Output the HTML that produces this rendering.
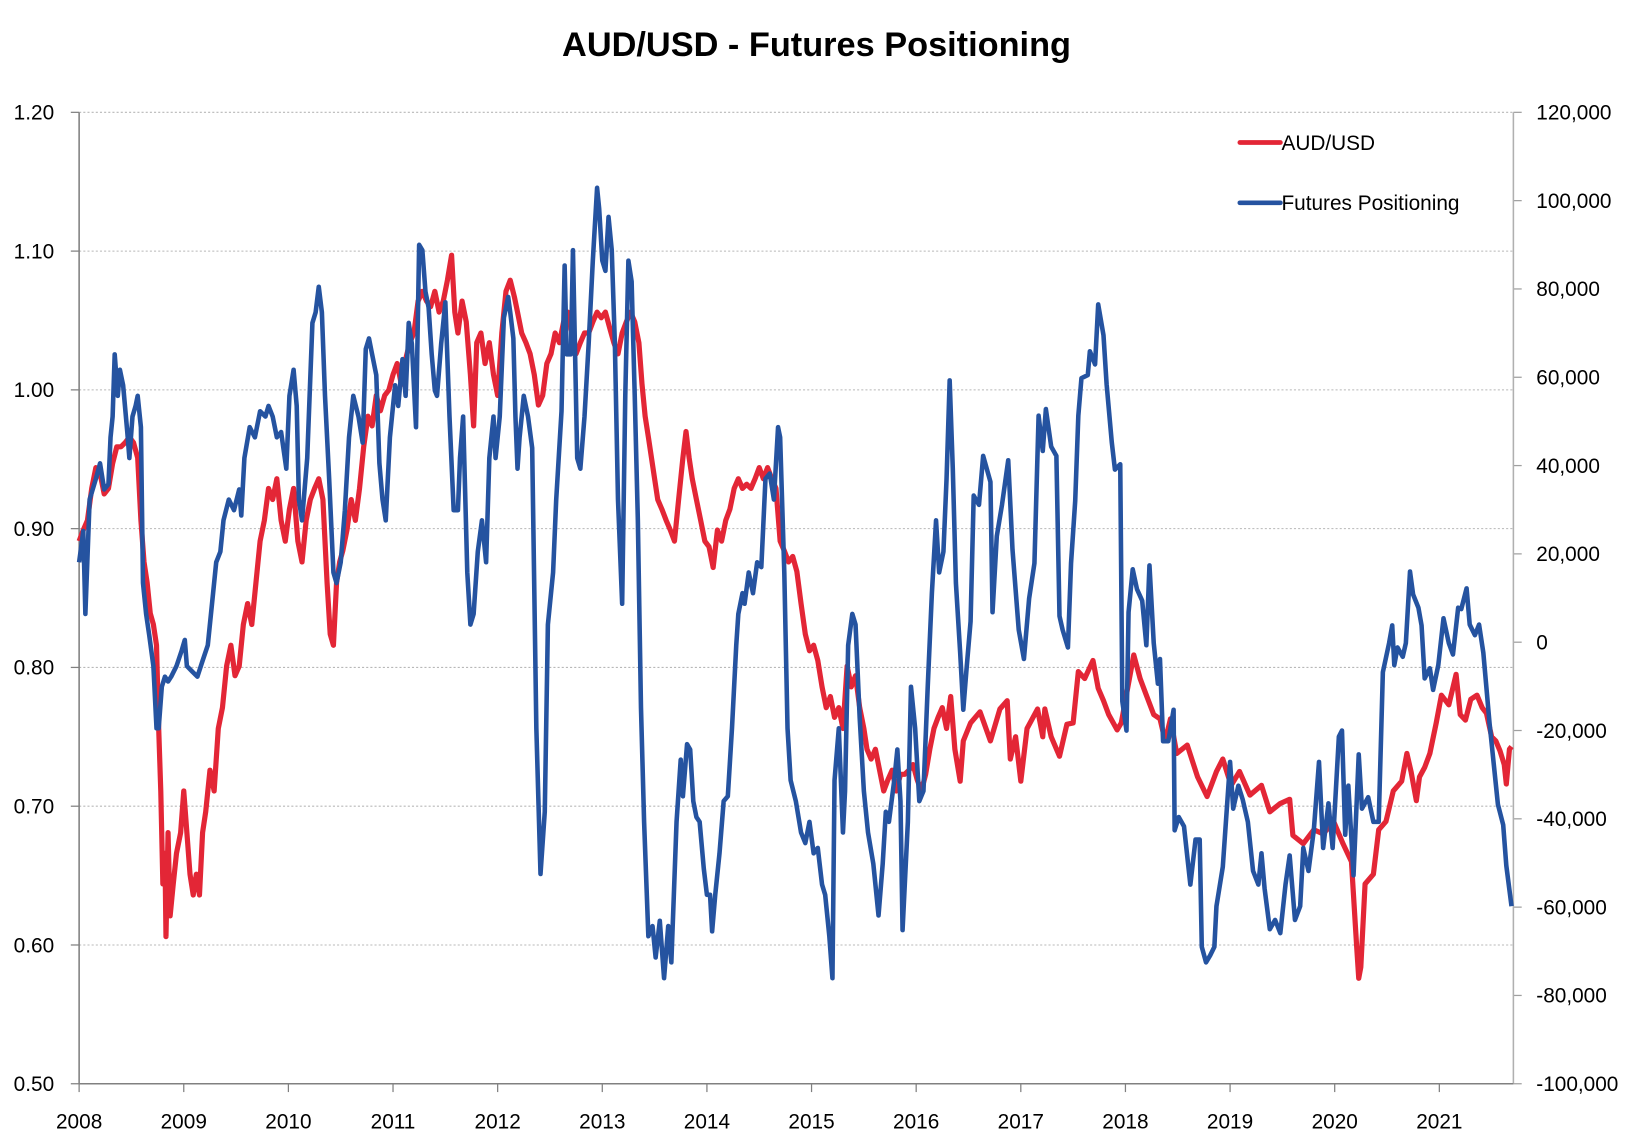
<!DOCTYPE html>
<html><head><meta charset="utf-8"><style>
html,body{margin:0;padding:0;background:#fff;}
svg{display:block;}
text{font-family:"Liberation Sans",sans-serif;}
</style></head><body>
<svg id="chart" width="1631" height="1142" viewBox="0 0 1568 1098" xmlns="http://www.w3.org/2000/svg">
<text x="785" y="54" text-anchor="middle" font-size="33" font-weight="bold" fill="#000">AUD/USD - Futures Positioning</text>
<g id="grid"></g>
<g id="axes"></g>
<g id="series"></g>
<g>
<g><line x1="1192" y1="137" x2="1231" y2="137" stroke="#e32636" stroke-width="4.5" stroke-linecap="round"/><text x="1232" y="144" font-size="20" fill="#000">AUD/USD</text></g>
<g><line x1="1192" y1="195" x2="1231" y2="195" stroke="#2553a0" stroke-width="4.5" stroke-linecap="round"/><text x="1232" y="202" font-size="20" fill="#000">Futures Positioning</text></g>
</g>
</svg>
<script>
const xTickLabels = [2008,2009,2010,2011,2012,2013,2014,2015,2016,2017,2018,2019,2020,2021];
const leftTickLabels = ["1.20","1.10","1.00","0.90","0.80","0.70","0.60","0.50"];
const leftTickValues = [1.2,1.1,1.0,0.9,0.8,0.7,0.6,0.5];
const rightTickLabels = ["120,000","100,000","80,000","60,000","40,000","20,000","0","-20,000","-40,000","-60,000","-80,000","-100,000"];
const rightTickValues = [120000,100000,80000,60000,40000,20000,0,-20000,-40000,-60000,-80000,-100000];

const audDates = [2008.00,2008.04,2008.08,2008.12,2008.16,2008.20,2008.24,2008.28,2008.32,2008.36,2008.40,2008.44,2008.48,2008.52,2008.56,2008.59,2008.62,2008.65,2008.68,2008.71,2008.74,2008.76,2008.78,2008.80,2008.82,2008.83,2008.85,2008.87,2008.90,2008.93,2008.97,2009.00,2009.03,2009.06,2009.09,2009.12,2009.15,2009.18,2009.21,2009.25,2009.29,2009.33,2009.37,2009.41,2009.45,2009.49,2009.53,2009.57,2009.61,2009.65,2009.69,2009.73,2009.77,2009.81,2009.85,2009.89,2009.93,2009.97,2010.01,2010.05,2010.09,2010.13,2010.17,2010.21,2010.25,2010.29,2010.33,2010.37,2010.40,2010.43,2010.46,2010.49,2010.52,2010.56,2010.60,2010.64,2010.68,2010.72,2010.76,2010.80,2010.84,2010.88,2010.92,2010.96,2011.00,2011.04,2011.08,2011.12,2011.16,2011.20,2011.24,2011.28,2011.32,2011.36,2011.40,2011.44,2011.48,2011.52,2011.56,2011.59,2011.62,2011.66,2011.70,2011.74,2011.77,2011.80,2011.84,2011.88,2011.92,2011.96,2012.00,2012.04,2012.08,2012.12,2012.16,2012.19,2012.23,2012.27,2012.31,2012.35,2012.39,2012.43,2012.47,2012.51,2012.55,2012.59,2012.63,2012.67,2012.71,2012.75,2012.79,2012.83,2012.87,2012.91,2012.95,2012.99,2013.03,2013.07,2013.11,2013.15,2013.19,2013.23,2013.27,2013.31,2013.35,2013.38,2013.41,2013.44,2013.47,2013.50,2013.53,2013.57,2013.61,2013.65,2013.69,2013.73,2013.77,2013.80,2013.83,2013.86,2013.90,2013.94,2013.98,2014.02,2014.06,2014.10,2014.14,2014.18,2014.22,2014.26,2014.30,2014.34,2014.38,2014.42,2014.46,2014.50,2014.54,2014.58,2014.62,2014.66,2014.70,2014.74,2014.78,2014.82,2014.86,2014.90,2014.94,2014.98,2015.02,2015.06,2015.10,2015.14,2015.18,2015.22,2015.26,2015.30,2015.34,2015.38,2015.42,2015.46,2015.50,2015.53,2015.57,2015.61,2015.65,2015.69,2015.73,2015.77,2015.81,2015.85,2015.89,2015.93,2015.97,2016.01,2016.05,2016.09,2016.13,2016.17,2016.21,2016.25,2016.29,2016.33,2016.37,2016.42,2016.45,2016.52,2016.61,2016.71,2016.80,2016.87,2016.90,2016.95,2017.00,2017.06,2017.16,2017.21,2017.23,2017.29,2017.37,2017.44,2017.50,2017.55,2017.61,2017.69,2017.74,2017.79,2017.84,2017.92,2017.96,2018.08,2018.14,2018.20,2018.27,2018.33,2018.38,2018.43,2018.49,2018.59,2018.69,2018.78,2018.87,2018.93,2019.01,2019.09,2019.19,2019.30,2019.38,2019.48,2019.57,2019.60,2019.70,2019.80,2019.89,2019.99,2020.08,2020.16,2020.21,2020.23,2020.25,2020.29,2020.37,2020.42,2020.49,2020.56,2020.64,2020.69,2020.73,2020.78,2020.81,2020.86,2020.91,2020.97,2021.02,2021.09,2021.16,2021.20,2021.25,2021.30,2021.36,2021.41,2021.45,2021.50,2021.54,2021.58,2021.62,2021.64,2021.67,2021.69];
const audValues = [0.891,0.899,0.906,0.929,0.944,0.940,0.925,0.929,0.947,0.959,0.959,0.962,0.966,0.962,0.951,0.906,0.876,0.861,0.839,0.831,0.816,0.756,0.711,0.644,0.666,0.606,0.681,0.621,0.644,0.666,0.681,0.711,0.681,0.651,0.636,0.651,0.636,0.681,0.696,0.726,0.711,0.756,0.771,0.801,0.816,0.794,0.801,0.831,0.846,0.831,0.861,0.891,0.906,0.929,0.921,0.936,0.906,0.891,0.914,0.929,0.891,0.876,0.906,0.921,0.929,0.936,0.921,0.861,0.824,0.816,0.861,0.876,0.884,0.899,0.921,0.906,0.929,0.959,0.981,0.974,0.996,0.985,0.996,1.000,1.011,1.019,1.004,1.022,1.034,1.041,1.064,1.071,1.064,1.060,1.071,1.056,1.064,1.079,1.097,1.056,1.041,1.064,1.049,1.011,0.974,1.034,1.041,1.019,1.034,1.011,0.996,1.041,1.071,1.079,1.067,1.056,1.041,1.034,1.026,1.011,0.989,0.996,1.019,1.026,1.041,1.034,1.049,1.056,1.041,1.026,1.034,1.041,1.041,1.049,1.056,1.052,1.056,1.045,1.034,1.026,1.041,1.049,1.056,1.049,1.034,1.004,0.981,0.966,0.951,0.936,0.921,0.914,0.906,0.899,0.891,0.921,0.951,0.970,0.951,0.936,0.921,0.906,0.891,0.887,0.872,0.899,0.891,0.906,0.914,0.929,0.936,0.929,0.932,0.929,0.936,0.944,0.936,0.944,0.936,0.929,0.891,0.884,0.876,0.880,0.869,0.846,0.824,0.812,0.816,0.805,0.786,0.771,0.779,0.764,0.771,0.756,0.801,0.786,0.794,0.771,0.756,0.741,0.734,0.741,0.726,0.711,0.719,0.726,0.711,0.723,0.723,0.726,0.730,0.719,0.711,0.723,0.741,0.756,0.764,0.771,0.756,0.779,0.741,0.718,0.747,0.760,0.768,0.747,0.770,0.776,0.734,0.750,0.718,0.756,0.770,0.750,0.770,0.750,0.736,0.759,0.760,0.797,0.792,0.805,0.785,0.776,0.766,0.755,0.760,0.809,0.792,0.780,0.766,0.763,0.747,0.763,0.738,0.744,0.721,0.707,0.725,0.734,0.715,0.725,0.708,0.715,0.696,0.702,0.705,0.679,0.673,0.683,0.680,0.689,0.673,0.660,0.599,0.576,0.584,0.644,0.651,0.683,0.689,0.711,0.718,0.738,0.725,0.704,0.721,0.728,0.738,0.760,0.780,0.773,0.795,0.766,0.762,0.777,0.780,0.771,0.767,0.750,0.747,0.740,0.730,0.716,0.741,0.743];

const posDates = [2008.00,2008.04,2008.06,2008.10,2008.16,2008.20,2008.24,2008.28,2008.30,2008.32,2008.34,2008.37,2008.39,2008.42,2008.46,2008.48,2008.51,2008.54,2008.56,2008.59,2008.61,2008.64,2008.67,2008.71,2008.74,2008.76,2008.79,2008.82,2008.85,2008.88,2008.93,2008.98,2009.01,2009.03,2009.08,2009.13,2009.18,2009.23,2009.28,2009.31,2009.35,2009.38,2009.43,2009.48,2009.53,2009.55,2009.58,2009.63,2009.68,2009.73,2009.78,2009.81,2009.85,2009.89,2009.93,2009.98,2010.01,2010.05,2010.08,2010.10,2010.13,2010.18,2010.23,2010.26,2010.29,2010.32,2010.35,2010.39,2010.43,2010.46,2010.50,2010.54,2010.58,2010.62,2010.67,2010.71,2010.74,2010.77,2010.80,2010.84,2010.87,2010.90,2010.93,2010.97,2011.02,2011.05,2011.09,2011.12,2011.15,2011.18,2011.22,2011.25,2011.28,2011.31,2011.34,2011.37,2011.40,2011.42,2011.46,2011.50,2011.54,2011.58,2011.62,2011.64,2011.67,2011.71,2011.74,2011.77,2011.81,2011.85,2011.89,2011.92,2011.96,2011.98,2012.02,2012.06,2012.10,2012.12,2012.15,2012.17,2012.19,2012.21,2012.25,2012.29,2012.33,2012.37,2012.41,2012.45,2012.48,2012.53,2012.56,2012.61,2012.64,2012.66,2012.70,2012.72,2012.76,2012.79,2012.83,2012.87,2012.91,2012.95,2012.97,2013.00,2013.03,2013.06,2013.09,2013.12,2013.15,2013.19,2013.22,2013.25,2013.28,2013.31,2013.34,2013.37,2013.40,2013.44,2013.48,2013.51,2013.55,2013.59,2013.63,2013.66,2013.71,2013.75,2013.77,2013.81,2013.84,2013.87,2013.90,2013.93,2013.97,2014.00,2014.03,2014.05,2014.08,2014.12,2014.16,2014.20,2014.24,2014.28,2014.30,2014.34,2014.36,2014.40,2014.44,2014.48,2014.52,2014.56,2014.60,2014.64,2014.68,2014.70,2014.74,2014.77,2014.80,2014.85,2014.90,2014.94,2014.98,2015.02,2015.06,2015.10,2015.13,2015.17,2015.20,2015.22,2015.26,2015.30,2015.32,2015.35,2015.39,2015.42,2015.46,2015.50,2015.54,2015.59,2015.64,2015.68,2015.71,2015.74,2015.79,2015.82,2015.85,2015.87,2015.92,2015.95,2015.99,2016.03,2016.07,2016.11,2016.15,2016.19,2016.22,2016.26,2016.29,2016.32,2016.35,2016.38,2016.42,2016.45,2016.48,2016.52,2016.55,2016.60,2016.64,2016.71,2016.73,2016.77,2016.82,2016.88,2016.92,2016.98,2017.03,2017.08,2017.13,2017.17,2017.21,2017.24,2017.29,2017.34,2017.37,2017.40,2017.45,2017.48,2017.52,2017.55,2017.58,2017.64,2017.66,2017.71,2017.74,2017.79,2017.82,2017.87,2017.90,2017.95,2017.97,2018.01,2018.03,2018.07,2018.11,2018.16,2018.20,2018.23,2018.27,2018.31,2018.33,2018.36,2018.41,2018.46,2018.47,2018.51,2018.56,2018.62,2018.67,2018.71,2018.73,2018.77,2018.81,2018.85,2018.87,2018.93,2019.00,2019.03,2019.08,2019.12,2019.17,2019.22,2019.27,2019.30,2019.33,2019.38,2019.43,2019.48,2019.53,2019.57,2019.62,2019.67,2019.70,2019.75,2019.80,2019.85,2019.89,2019.94,2019.98,2020.04,2020.07,2020.10,2020.13,2020.18,2020.23,2020.26,2020.32,2020.37,2020.42,2020.46,2020.52,2020.55,2020.57,2020.60,2020.65,2020.68,2020.72,2020.75,2020.80,2020.83,2020.86,2020.91,2020.94,2020.99,2021.04,2021.09,2021.13,2021.18,2021.21,2021.26,2021.29,2021.34,2021.38,2021.42,2021.48,2021.56,2021.61,2021.64,2021.69];
const posValues = [18100,25200,6400,32300,37000,40500,34600,35800,46400,51100,65200,55800,61700,58200,47600,41700,51100,53500,55800,48700,13400,6400,1600,-5400,-19500,-19500,-10100,-7800,-8900,-7800,-5400,-1900,500,-5400,-6600,-7800,-4200,-700,11100,18100,20500,27600,32300,29900,34600,28700,41700,48700,46400,52300,51100,53500,51100,46400,47600,39300,55800,61700,53500,32300,27600,41700,72300,74700,80500,74700,55800,37000,15800,13400,18100,29900,46400,55800,51100,45200,66400,68800,65200,60500,40500,32300,27600,46400,58200,53500,64100,55800,72300,67600,48700,90000,88800,79400,75800,65200,57000,55800,67600,77000,51100,29900,29900,41700,51100,15800,4000,6400,20500,27600,18100,41700,51100,41700,51100,73500,78200,74700,68800,51100,39300,46400,55800,51100,44000,-19500,-52500,-38400,4000,15800,32300,52300,85300,65200,65200,88800,41700,39300,51100,67600,86400,102900,98200,86400,84100,96300,88800,67600,32300,8700,55800,86400,81700,55800,27600,-14800,-40700,-66600,-64300,-71400,-63100,-76100,-64300,-72500,-40700,-26600,-34900,-23100,-24300,-36000,-39600,-40700,-51300,-57200,-57200,-65500,-57200,-47800,-36000,-34900,-19500,-700,6400,11100,8700,15800,11100,18100,17000,37000,38200,32300,48700,46400,15800,-19500,-31300,-36000,-43100,-45500,-40700,-47800,-46600,-54900,-57200,-66600,-76100,-31300,-19500,-43100,-33700,-700,6400,4000,-17200,-33700,-43100,-50200,-61900,-50200,-38400,-40700,-31300,-24300,-36000,-65200,-40700,-10100,-19500,-36000,-33700,-10100,11100,27600,15800,20500,37000,59300,39300,13400,-2400,-15300,-6400,4700,33200,31100,42200,36300,6800,24000,31100,41200,21000,2800,-3800,9900,17900,51300,43300,52800,44300,42200,5900,2800,-1200,17900,32000,51300,59800,60500,65900,62900,76500,69500,58400,45200,39100,40300,-13400,-20000,6800,16500,12000,9400,-700,17400,-200,-9400,-3800,-22400,-22400,-15300,-42600,-39600,-41700,-54900,-44700,-44700,-69000,-72500,-70900,-69000,-59800,-50900,-27100,-37700,-32500,-35600,-40700,-51800,-54900,-47800,-55800,-65000,-62900,-65900,-54900,-48300,-62900,-59800,-46600,-51800,-42600,-27100,-46600,-36500,-46600,-21400,-20000,-43600,-32500,-52800,-25400,-37700,-35100,-40700,-40700,-6800,-200,3800,-5200,-1200,-3300,-200,16000,10800,7800,3800,-8200,-5900,-10800,-5200,5400,-200,-2800,7800,7500,12200,4000,1600,4000,-2400,-18400,-36700,-41400,-50600,-59800];

const NS = "http://www.w3.org/2000/svg";
const PL = 76, PR = 1455, PT = 108, PB = 1042;
function xScale(yr){ return PL + (yr - 2008) * 100.6; }
function yLeft(v){ return PT + (1.2 - v) / 0.7 * (PB - PT); }
function yRight(v){ return PT + (120000 - v) / 220000 * (PB - PT); }
function mk(tag, attrs, parent){ const e = document.createElementNS(NS, tag); for (const k in attrs) e.setAttribute(k, attrs[k]); parent.appendChild(e); return e; }

const grid = document.getElementById('grid');
const axes = document.getElementById('axes');
const series = document.getElementById('series');

leftTickValues.forEach((v, i) => {
  const y = yLeft(v);
  if (v > 0.5) {
    const g = mk('line', {x1: PL, x2: PR, y1: y, y2: y, stroke: '#b8b8b8', 'stroke-width': 1, 'stroke-dasharray': '2,2'}, grid);
    
    
  }
  mk('line', {x1: PL - 8, x2: PL, y1: y, y2: y, stroke: '#808080', 'stroke-width': 1.2}, axes);
  const t = mk('text', {x: 52, y: y + 7, 'text-anchor': 'end', 'font-size': 20, fill: '#000'}, axes);
  t.textContent = leftTickLabels[i];
  
  
});
rightTickValues.forEach((v, i) => {
  const y = yRight(v);
  mk('line', {x1: PR, x2: PR + 8, y1: y, y2: y, stroke: '#a0a0a0', 'stroke-width': 1.2}, axes);
  const t = mk('text', {x: 1477, y: y + 7, 'text-anchor': 'start', 'font-size': 20, fill: '#000'}, axes);
  t.textContent = rightTickLabels[i];
  
  
});
xTickLabels.forEach(yr => {
  const x = xScale(yr);
  mk('line', {x1: x, x2: x, y1: PB, y2: PB + 8, stroke: '#808080', 'stroke-width': 1.2}, axes);
  const t = mk('text', {x: x, y: 1085, 'text-anchor': 'middle', 'font-size': 20, fill: '#000'}, axes);
  t.textContent = yr;
  
  
});
const la = mk('line', {x1: PL, x2: PL, y1: PT, y2: PB, stroke: '#808080', 'stroke-width': 1.5}, axes);


const ra = mk('line', {x1: PR, x2: PR, y1: PT, y2: PB, stroke: '#b0b0b0', 'stroke-width': 1.5}, axes);


const ba = mk('line', {x1: PL, x2: PR, y1: PB, y2: PB, stroke: '#808080', 'stroke-width': 1.5}, axes);



const audPts = audDates.map((d, i) => xScale(d).toFixed(1) + ',' + yLeft(audValues[i]).toFixed(1)).join(' ');
const audLine = mk('polyline', {points: audPts, fill: 'none', stroke: '#e32636', 'stroke-width': 5, 'stroke-linejoin': 'round'}, series);



const posPts = posDates.map((d, i) => xScale(d).toFixed(1) + ',' + yRight(posValues[i]).toFixed(1)).join(' ');
const posLine = mk('polyline', {points: posPts, fill: 'none', stroke: '#2553a0', 'stroke-width': 4.4, 'stroke-linejoin': 'round'}, series);


</script>
</body></html>
